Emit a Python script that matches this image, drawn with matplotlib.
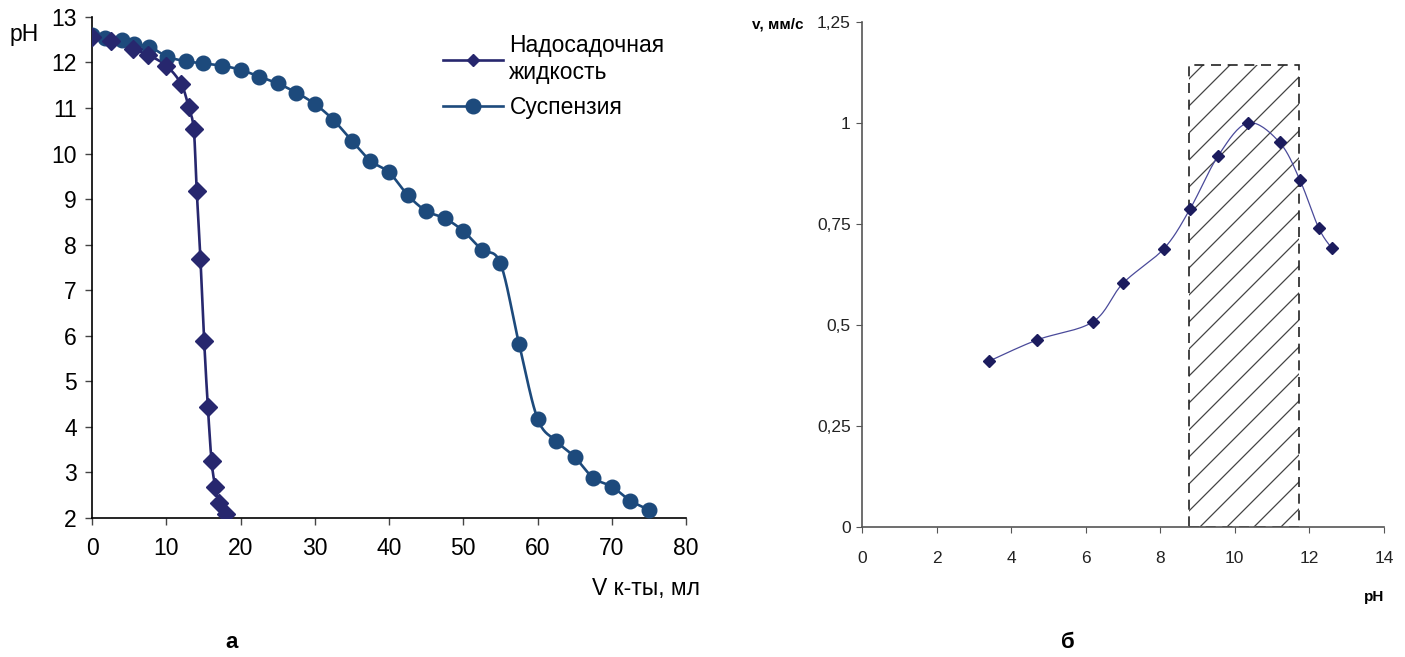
import numpy as np
import matplotlib
matplotlib.use("Agg")
import matplotlib.pyplot as plt
from matplotlib.lines import Line2D
from matplotlib.patches import Rectangle

# --- data, panel a (titration curves) ---
v_liquid = [0, 2.5, 5.5, 7.5, 10, 12, 13, 13.7, 14.1, 14.6, 15.1, 15.6, 16.1, 16.6, 17.1, 18.1]
ph_liquid = [12.55, 12.47, 12.3, 12.17, 11.93, 11.53, 11.03, 10.53, 9.18, 7.69, 5.89, 4.44,
             3.25, 2.68, 2.33, 2.09]

v_susp = [0, 1.7, 4.1, 5.6, 7.7, 10.1, 12.6, 15, 17.5, 20, 22.5, 25, 27.5, 30, 32.5, 35,
          37.5, 40, 42.5, 45, 47.5, 50, 52.5, 55, 57.5, 60, 62.5, 65, 67.5, 70, 72.5, 75]
ph_susp = [12.6, 12.53, 12.49, 12.4, 12.35, 12.13, 12.03, 11.98, 11.93, 11.84, 11.69, 11.54,
           11.34, 11.09, 10.74, 10.28, 9.84, 9.59, 9.09, 8.74, 8.58, 8.3, 7.89, 7.59, 5.83,
           4.18, 3.69, 3.34, 2.88, 2.69, 2.38, 2.18]

# --- data, panel b (velocity vs pH) ---
ph_b = [3.4, 4.7, 6.2, 7.0, 8.1, 8.8, 9.55, 10.35, 11.2, 11.75, 12.25, 12.6]
vel_b = [0.41, 0.463, 0.508, 0.603, 0.689, 0.787, 0.918, 1.0, 0.952, 0.858, 0.74, 0.69]
zone = (8.77, 11.73, 1.143)  # hatched optimum range: pH from, pH to, height


def smooth(x, y, sx, sy, n=20):
    # Excel-like smoothed line (Bezier through points), computed in screen-scaled space
    p = np.column_stack([np.asarray(x) * sx, np.asarray(y) * sy])
    out = [p[0]]
    for i in range(len(p) - 1):
        p0 = p[i - 1] if i > 0 else p[i]
        p3 = p[i + 2] if i + 2 < len(p) else p[i + 1]
        c1 = p[i] + (p[i + 1] - p0) / 6
        c2 = p[i + 1] - (p3 - p[i]) / 6
        t = np.linspace(0, 1, n)[1:, None]
        seg = ((1 - t) ** 3) * p[i] + 3 * ((1 - t) ** 2) * t * c1 + 3 * (1 - t) * t ** 2 * c2 + t ** 3 * p[i + 1]
        out.extend(seg)
    out = np.array(out)
    return out[:, 0] / sx, out[:, 1] / sy


fig = plt.figure(figsize=(14.05, 6.57), dpi=100)
plt.rcParams['font.family'] = ['Liberation Sans', 'DejaVu Sans']

c_liq = '#27276e'
c_susp = '#1d4a7c'
fs = 16.5

# ---------------- panel a ----------------
ax1 = fig.add_axes([0.0655, 0.2116, 0.4228, 0.7626])
sx1, sy1 = 594 / 80, 501 / 11
xs, ys = smooth(v_liquid, ph_liquid, sx1, sy1)
ax1.plot(xs, ys, color=c_liq, lw=1.9, zorder=3)
ax1.plot(v_liquid, ph_liquid, 'D', color=c_liq, ms=9, zorder=4)
xs, ys = smooth(v_susp, ph_susp, sx1, sy1)
ax1.plot(xs, ys, color=c_susp, lw=1.9, zorder=2)
ax1.plot(v_susp, ph_susp, 'o', color=c_susp, ms=10.5, zorder=3)

ax1.set_xlim(0, 80)
ax1.set_ylim(2, 13)
ax1.set_xticks(range(0, 81, 10))
ax1.set_yticks(range(2, 14))
ax1.spines['top'].set_visible(False)
ax1.spines['right'].set_visible(False)
ax1.tick_params(labelsize=fs, length=5, width=1, color='#444444')
ax1.tick_params(axis='x', pad=9)
ax1.tick_params(axis='y', pad=6)
for sp in ('left', 'bottom'):
    ax1.spines[sp].set_linewidth(1.2)
fig.text(0.007, 0.937, 'pH', fontsize=fs)
fig.text(0.4985, 0.095, 'V к-ты, мл', fontsize=fs, ha='right')

handles = [Line2D([], [], color=c_liq, lw=1.9, marker='D', ms=6),
           Line2D([], [], color=c_susp, lw=1.9, marker='o', ms=10.5)]
ax1.legend(handles, ['Надосадочная\nжидкость', 'Суспензия'], frameon=False, fontsize=fs,
           loc='upper left', bbox_to_anchor=(0.556, 1.007), handlelength=2.6, labelspacing=0.55,
           handletextpad=0.3)

fig.text(0.165, 0.013, 'а', fontsize=16, fontweight='bold', ha='center')

# ---------------- panel b ----------------
narrow = ['Liberation Sans Narrow', 'Liberation Sans', 'DejaVu Sans']
ax2 = fig.add_axes([0.6135, 0.198, 0.3715, 0.7686])
sx2, sy2 = 522 / 14, 505 / 1.25

# hatched zone: dashed frame + 45-degree lines clipped to it
frame = Rectangle((zone[0], 0), zone[1] - zone[0], zone[2], fill=False,
                  edgecolor='#222222', lw=1.2, linestyle=(0, (6, 4)), zorder=2)
ax2.add_patch(frame)
clip = Rectangle((zone[0], 0), zone[1] - zone[0], zone[2], transform=ax2.transData)
step = 27 / sy2  # vertical spacing between hatch lines (in data units)
k = sx2 / sy2    # 45 degrees on screen
for y0 in np.arange(-4 * zone[2], zone[2] + step, step):
    hx = np.array([zone[0], zone[1]])
    hl, = ax2.plot(hx, y0 + (hx - zone[0]) * k, color='#444444', lw=0.9, zorder=1)
    hl.set_clip_path(clip)

xs, ys = smooth(ph_b, vel_b, sx2, sy2)
ax2.plot(xs, ys, color='#4a4a9a', lw=0.9, zorder=3)
ax2.plot(ph_b, vel_b, 'D', color='#1c1c5e', ms=6.5, zorder=4)

ax2.set_xlim(0, 14)
ax2.set_ylim(0, 1.25)
ax2.set_xticks(range(0, 15, 2))
ax2.set_yticks([0, 0.25, 0.5, 0.75, 1, 1.25])
ax2.set_yticklabels(['0', '0,25', '0,5', '0,75', '1', '1,25'])
ax2.spines['top'].set_visible(False)
ax2.spines['right'].set_visible(False)
for sp in ('left', 'bottom'):
    ax2.spines[sp].set_color('#555555')
    ax2.spines[sp].set_linewidth(1.2)
ax2.tick_params(labelsize=12.5, length=4, color='#555555', labelcolor='#222222')
ax2.tick_params(axis='x', pad=13)
ax2.tick_params(axis='y', pad=4)
for lab in ax2.get_xticklabels() + ax2.get_yticklabels():
    lab.set_family(narrow)
fig.text(0.535, 0.956, 'v, мм/с', fontsize=11, fontweight='bold', family=narrow)
fig.text(0.985, 0.085, 'pH', fontsize=11, fontweight='bold', family=narrow, ha='right')

fig.text(0.76, 0.013, 'б', fontsize=16, fontweight='bold', ha='center')

fig.savefig('out.png', dpi=100)
